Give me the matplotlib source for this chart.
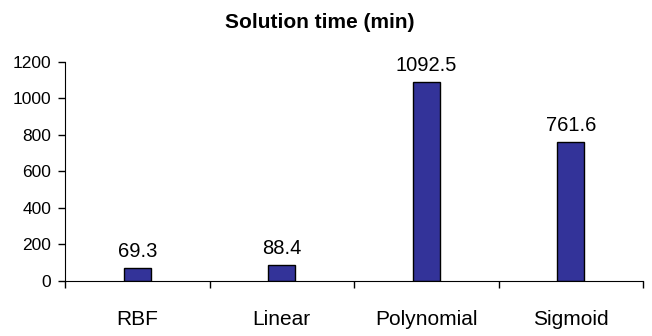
import matplotlib.pyplot as plt
import numpy as np

# Data
categories = ['RBF', 'Linear', 'Polynomial', 'Sigmoid']
times = [69.3, 88.4, 1092.5, 761.6]
value_labels = ['69.3', '88.4', '1092.5', '761.6']

plt.rcParams['font.family'] = ['Liberation Sans', 'DejaVu Sans']

fig = plt.figure(figsize=(6.52, 3.36), dpi=100)
ax = fig.add_axes([0.0997, 0.1637, 0.8865, 0.6518])

x = np.arange(len(categories))
ax.bar(x, times, width=0.19, color='#333399', edgecolor='black', linewidth=1)

for xi, v, lab in zip(x, times, value_labels):
    ax.annotate(lab, (xi, v), xytext=(0, 5), textcoords='offset points',
                ha='center', va='bottom', fontsize=14.5)

ax.set_xlim(-0.5, len(categories) - 0.5)
ax.set_ylim(0, 1200)
ax.set_yticks(range(0, 1201, 200))

# category labels at centers, tick marks at boundaries
ax.set_xticks(x)
ax.set_xticklabels(categories, fontsize=15)
ax.tick_params(axis='x', which='major', length=0, pad=21)
ax.set_xticks(np.arange(-0.5, len(categories), 1.0), minor=True)
ax.tick_params(axis='x', which='minor', length=5, width=1, direction='out')
ax.tick_params(axis='y', length=5, width=1, labelsize=12.5, direction='out', pad=5)

ax.spines['top'].set_visible(False)
ax.spines['right'].set_visible(False)

fig.text(0.491, 0.934, 'Solution time (min)', ha='center', va='center',
         fontsize=15, fontweight='bold')

plt.savefig('out.png', dpi=100)
